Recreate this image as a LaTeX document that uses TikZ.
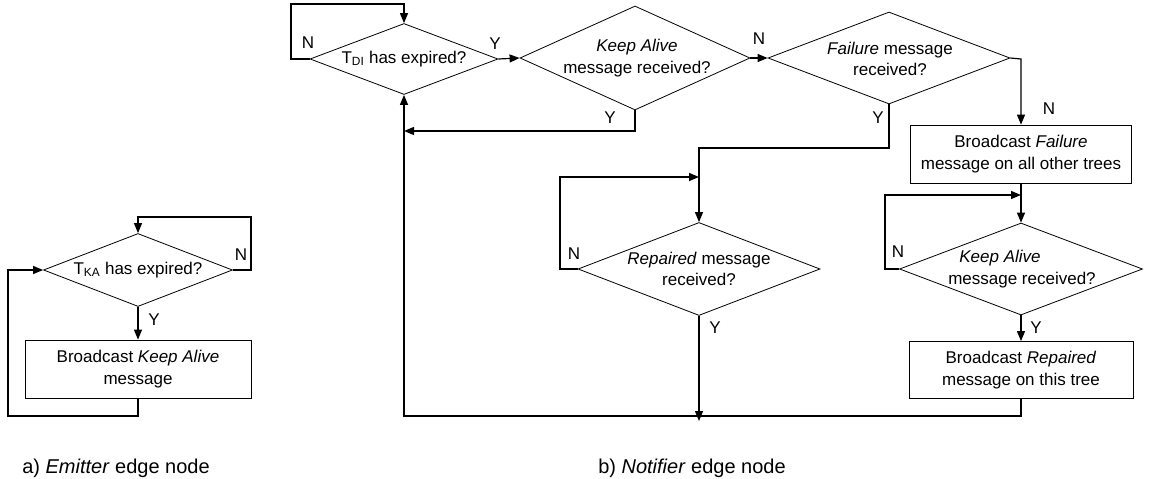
\documentclass[tikz,border=0pt]{standalone}
\usepackage{fontspec}
\setmainfont{Liberation Sans}
\usetikzlibrary{arrows.meta,shapes.geometric}
\begin{document}
\begin{tikzpicture}[x=1pt,y=-1pt,
  font=\fontsize{17}{21.5}\selectfont,
  dec/.style={diamond,draw,line width=0.8pt,inner sep=0pt},
  procbox/.style={rectangle,draw,line width=0.8pt,inner sep=0pt},
  txt/.style={align=center,inner sep=0pt},
  flow/.style={line width=1.2pt},
  arr/.style={flow,-{Triangle[length=10pt,width=8pt]}},
  yn/.style={inner sep=0pt},
  captext/.style={font=\fontsize{20}{24}\selectfont,anchor=base,inner sep=0pt}]
\useasboundingbox (0,0) rectangle (1157,479);

% ---------- a) Emitter ----------
\node[dec,minimum width=189pt,minimum height=73pt] (dA) at (138,270) {};
\node[txt] (tA) at (138,270) {T\textsubscript{KA} has expired?};
\node[procbox,minimum width=226pt,minimum height=58pt] (bA) at (138,369) {};
\node[txt] (tbA) at (138,369) {Broadcast \textit{Keep Alive}\\message};
\coordinate (aN1) at (251,270);
\coordinate (aN2) at (251,217);
\coordinate (aN3) at (138,217);
\coordinate (aL1) at (138,416);
\coordinate (aL2) at (8,416);
\coordinate (aL3) at (8,270);
\draw[arr] (dA.east) -- (aN1) -- (aN2) -- (aN3) -- (dA.north);
\draw[arr] (dA.south) -- (bA.north);
\draw[arr] (bA.south) -- (aL1) -- (aL2) -- (aL3) -- (dA.west);
\node[yn] (lAN) at (241,255) {N};
\node[yn] (lAY) at (154,320) {Y};

% ---------- b) Notifier ----------
\node[dec,minimum width=188pt,minimum height=71pt] (d1) at (404,59) {};
\node[txt] (t1) at (404,59) {T\textsubscript{DI} has expired?};
\node[dec,minimum width=230pt,minimum height=104pt] (d2) at (635,58) {};
\node[txt] (t2) at (637,58) {\textit{Keep Alive}\\message received?};
\node[dec,minimum width=242pt,minimum height=92pt] (d3) at (889,58) {};
\node[txt] (t3) at (890,59) {\textit{Failure} message\\received?};
\node[procbox,minimum width=221pt,minimum height=58pt] (b1) at (1021,154) {};
\node[txt] (tb1) at (1021,154) {Broadcast \textit{Failure}\\message on all other trees};
\node[dec,minimum width=242pt,minimum height=93pt] (d4) at (699,269) {};
\node[txt] (t4) at (699,269) {\textit{Repaired} message\\received?};
\node[dec,minimum width=243pt,minimum height=92pt] (d5) at (1021,269) {};
\node[txt] (t5) at (1022,269) {\textit{Keep Alive}\rule{44pt}{0pt}\\message received?};
\node[procbox,minimum width=224pt,minimum height=57pt] (b2) at (1021,370) {};
\node[txt] (tb2) at (1021,370) {Broadcast \textit{Repaired}\\message on this tree};

% helper points
\coordinate (n1a) at (291,59);
\coordinate (n1b) at (291,4);
\coordinate (n1c) at (404,4);
\coordinate (y2a) at (635,131);
\coordinate (y2b) at (404,131);
\coordinate (n3a) at (1021,59);
\coordinate (y3a) at (889,148);
\coordinate (y3b) at (699,148);
\coordinate (n4a) at (560,269);
\coordinate (n4b) at (560,177);
\coordinate (n4c) at (699,177);
\coordinate (y4a) at (699,421);
\coordinate (n5a) at (885,269);
\coordinate (n5b) at (885,195);
\coordinate (n5c) at (1021,195);
\coordinate (r1) at (1021,416);
\coordinate (r2) at (404,416);

\draw[arr] (d1.west) -- (n1a) -- (n1b) -- (n1c) -- (d1.north);
\draw[arr] (d1.east) -- (d2.west);
\draw[arr] (d2.east) -- (d3.west);
\draw[arr] (d2.south) -- (y2a) -- (y2b);
\draw[arr] (d3.east) -- (n3a) -- (b1.north);
\draw[arr] (d3.south) -- (y3a) -- (y3b) -- (d4.north);
\draw[arr] (d4.west) -- (n4a) -- (n4b) -- (n4c);
\draw[arr] (d4.south) -- (y4a);
\draw[arr] (b1.south) -- (d5.north);
\draw[arr] (d5.west) -- (n5a) -- (n5b) -- (n5c);
\draw[arr] (d5.south) -- (b2.north);
\draw[arr] (b2.south) -- (r1) -- (r2) -- (d1.south);

\node[yn] (l1N) at (308,43) {N};
\node[yn] (l1Y) at (495,44) {Y};
\node[yn] (l2N) at (759,39) {N};
\node[yn] (l2Y) at (610,118) {Y};
\node[yn] (l3N) at (1049,109) {N};
\node[yn] (l3Y) at (878,118) {Y};
\node[yn] (l4N) at (574,254) {N};
\node[yn] (l4Y) at (715,328) {Y};
\node[yn] (l5N) at (898,252) {N};
\node[yn] (l5Y) at (1036,328) {Y};

% captions
\node[captext] (capA) at (116,473) {a) \textit{Emitter} edge node};
\node[captext] (capB) at (692,473) {b) \textit{Notifier} edge node};
\end{tikzpicture}
\end{document}
